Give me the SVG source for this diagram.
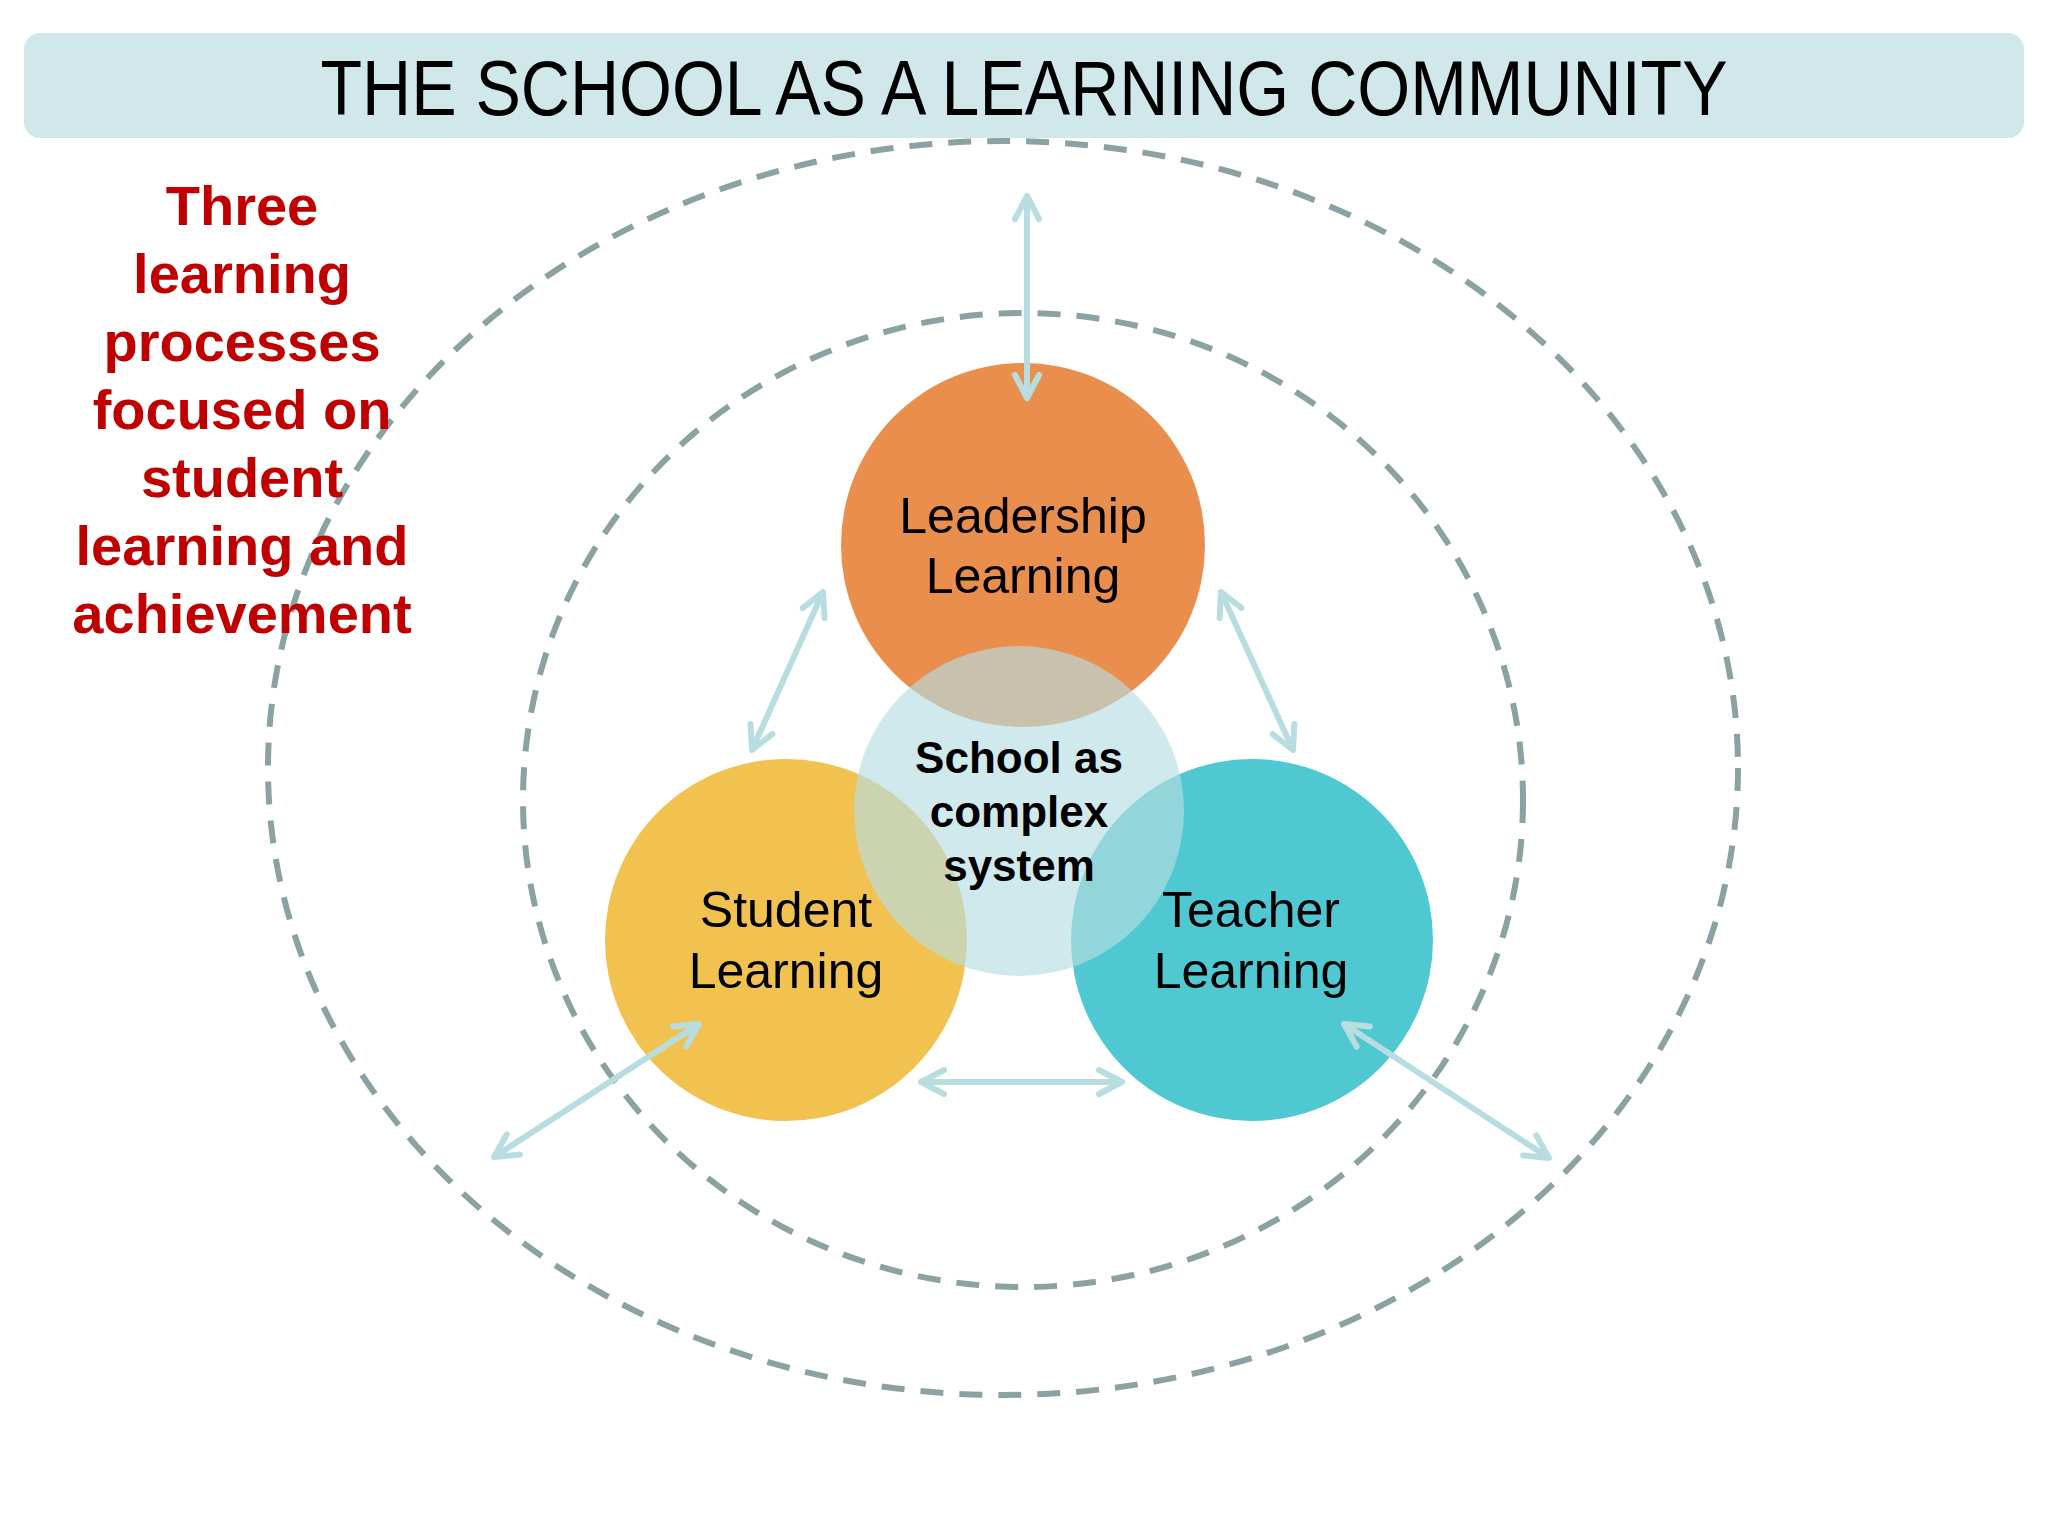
<svg xmlns="http://www.w3.org/2000/svg" width="2048" height="1536" viewBox="0 0 2048 1536">
  <style>
    .dash { fill: none; stroke: #8aa3a2; stroke-width: 6; stroke-dasharray: 23 16; }
    .node-label { font-family: "Liberation Sans", Arial, sans-serif; font-size: 50px; fill: #000; text-anchor: middle; }
    .center-label { font-family: "Liberation Sans", Arial, sans-serif; font-weight: bold; font-size: 44px; fill: #000; text-anchor: middle; }
    .side { font-family: "Liberation Sans", Arial, sans-serif; font-weight: bold; font-size: 56px; fill: #c00000; text-anchor: middle; }
    .conn { stroke: #b7dde0; stroke-width: 6; fill: none; marker-start: url(#chev); marker-end: url(#chev); }
  </style>
  <defs>
    <marker id="chev" markerUnits="userSpaceOnUse" viewBox="0 0 32 32" markerWidth="32" markerHeight="32" refX="27" refY="16" orient="auto-start-reverse">
      <path d="M4,4 L27,16 L4,28" fill="none" stroke="#b7dde0" stroke-width="6" stroke-linecap="round" stroke-linejoin="round"/>
    </marker>
  </defs>
  <rect width="2048" height="1536" fill="#ffffff"/>

  <g id="title">
    <rect x="24" y="33" width="2000" height="105" rx="16" fill="#d0e8ea"/>
    <text x="1024" y="115" font-family="'Liberation Sans', Arial, sans-serif" font-size="78" fill="#000" text-anchor="middle" textLength="1407" lengthAdjust="spacingAndGlyphs">THE SCHOOL AS A LEARNING COMMUNITY</text>
  </g>

  <g id="rings">
    <ellipse id="outer-ring" class="dash" cx="1003" cy="768" rx="735" ry="627"/>
    <ellipse id="inner-ring" class="dash" cx="1023" cy="800" rx="500" ry="487"/>
  </g>

  <g id="side-text">
    <text class="side" x="242" y="225">Three</text>
    <text class="side" x="242" y="293">learning</text>
    <text class="side" x="242" y="361">processes</text>
    <text class="side" x="242" y="429">focused on</text>
    <text class="side" x="242" y="497">student</text>
    <text class="side" x="242" y="565">learning and</text>
    <text class="side" x="242" y="633">achievement</text>
  </g>

  <g id="leadership">
    <circle cx="1023" cy="545" r="182" fill="#e98e4d"/>
    <text class="node-label" x="1023" y="533">Leadership</text>
    <text class="node-label" x="1023" y="593">Learning</text>
  </g>
  <g id="student">
    <circle cx="786" cy="940" r="181" fill="#f2c250"/>
  </g>
  <g id="teacher">
    <circle cx="1252" cy="940" r="181" fill="#4fc8d2"/>
  </g>
  <g id="school">
    <circle cx="1019" cy="811" r="165" fill="#b7dde2" fill-opacity="0.65"/>
    <text class="center-label" x="1019" y="773">School as</text>
    <text class="center-label" x="1019" y="827">complex</text>
    <text class="center-label" x="1019" y="881">system</text>
  </g>
  <g id="student-label">
    <text class="node-label" x="786" y="927">Student</text>
    <text class="node-label" x="786" y="988">Learning</text>
  </g>
  <g id="teacher-label">
    <text class="node-label" x="1251" y="927">Teacher</text>
    <text class="node-label" x="1251" y="988">Learning</text>
  </g>

  <g id="connectors">
    <line class="conn" x1="1027" y1="196" x2="1027" y2="398"/>
    <line class="conn" x1="823" y1="592" x2="752" y2="750"/>
    <line class="conn" x1="1221" y1="592" x2="1293" y2="750"/>
    <line class="conn" x1="921" y1="1082" x2="1122" y2="1082"/>
    <line class="conn" x1="699" y1="1024" x2="494" y2="1157"/>
    <line class="conn" x1="1344" y1="1024" x2="1549" y2="1158"/>
  </g>
</svg>
